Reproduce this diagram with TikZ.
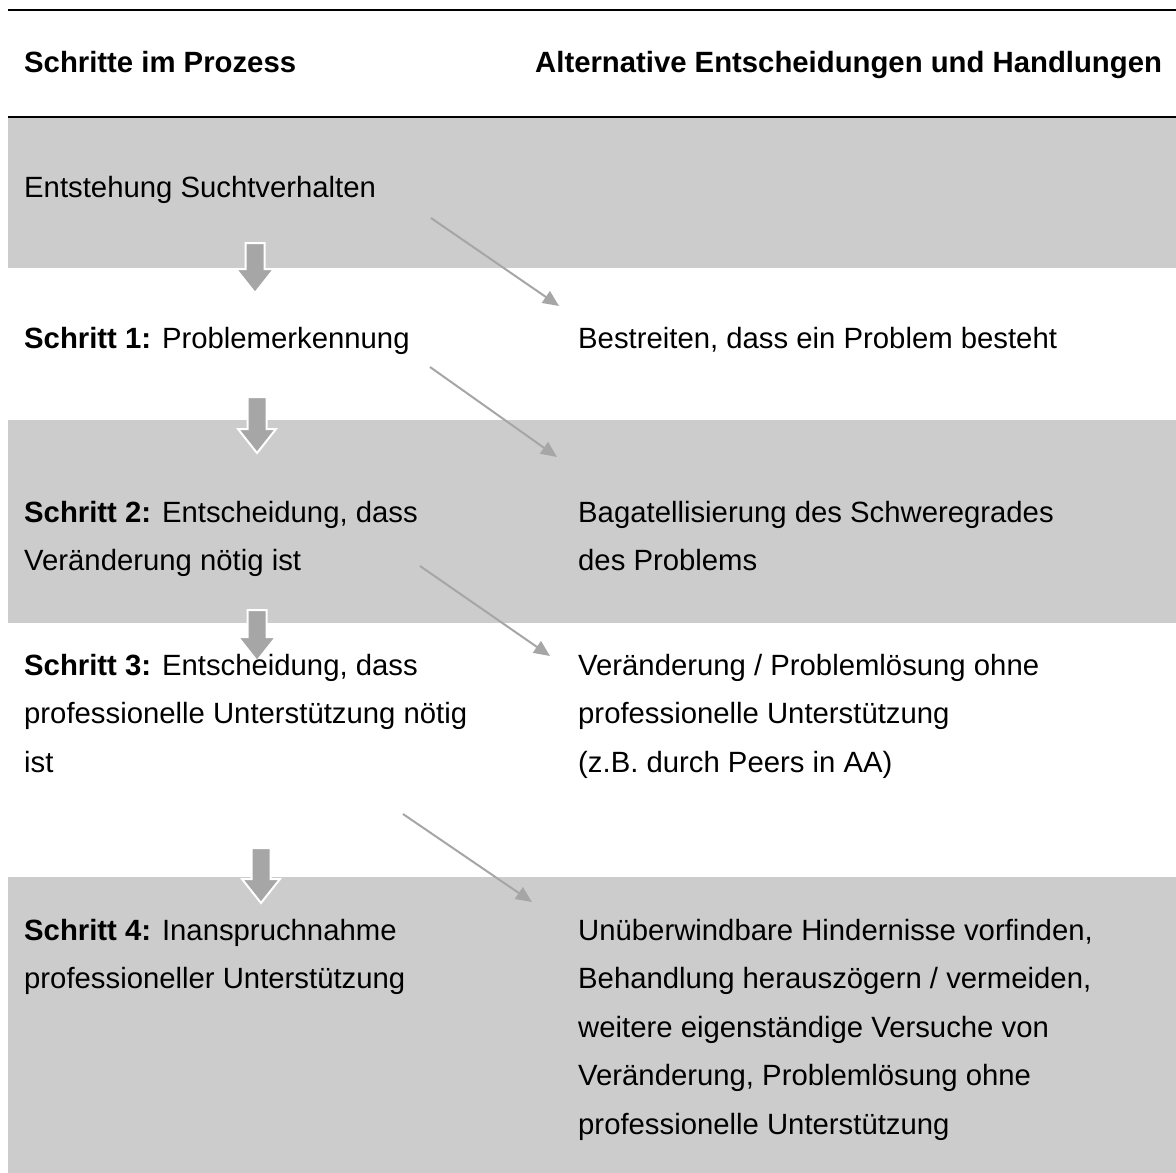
\documentclass[tikz,border=0pt]{standalone}
\usepackage{fontspec}
\setmainfont{Liberation Sans}
\usepackage{tikz}
\usetikzlibrary{arrows.meta}
\definecolor{bandgray}{HTML}{CCCCCC}
\definecolor{arrowgray}{HTML}{A6A6A6}
\newcommand{\bodyfont}{\fontsize{29.3}{48.5}\selectfont}

\begin{document}
\begin{tikzpicture}[x=1pt, y=-1pt,
  txt/.style={anchor=base west, inner sep=0pt, align=left, font=\bodyfont},
  band/.style={fill=bandgray, draw=none},
  rule/.style={line width=2.5pt, black},
  blockarrow/.style={fill=arrowgray, draw=white, line width=2pt},
  thinarrow/.style={arrowgray, line width=2pt, -{Triangle[length=16pt,width=14pt]}}]
\useasboundingbox (0,0) rectangle (1176,1173);

% grey rows
\fill[band] (8,117) rectangle (1176,268);
\fill[band] (8,420) rectangle (1176,623);
\fill[band] (8,877) rectangle (1176,1173);

% table rules
\draw[rule] (8,10) -- (1176,10);
\draw[rule] (8,117) -- (1176,117);

% block arrows between the steps
\foreach \ax/\at/\ab in {255/243/293, 257/397/453, 257/610/661, 261/848/903}
  \filldraw[blockarrow] (\ax-9.5,\at) -- (\ax+9.5,\at) -- (\ax+9.5,\ab-24) -- (\ax+19,\ab-24)
    -- (\ax,\ab) -- (\ax-19,\ab-24) -- (\ax-9.5,\ab-24) -- cycle;

% header
\node[txt] (steps) at (24,72) {\textbf{Schritte im Prozess}};
\node[txt] (alts) at (535,72) {\textbf{Alternative Entscheidungen und Handlungen}};

% left column (multi-line nodes sit on their last baseline)
\node[txt] (origin) at (24,197) {Entstehung Suchtverhalten};
\node[txt] (step1) at (24,348) {\textbf{Schritt 1:} Problemerkennung};
\node[txt] (step2) at (24,570.5) {\textbf{Schritt 2:} Entscheidung, dass\\Veränderung nötig ist};
\node[txt] (step3) at (24,772) {\textbf{Schritt 3:} Entscheidung, dass\\professionelle Unterstützung nötig\\ist};
\node[txt] (step4) at (24,988.5) {\textbf{Schritt 4:} Inanspruchnahme\\professioneller Unterstützung};

% right column
\node[txt] (alt1) at (578,348) {Bestreiten, dass ein Problem besteht};
\node[txt] (alt2) at (578,570.5) {Bagatellisierung des Schweregrades\\des Problems};
\node[txt] (alt3) at (578,772) {Veränderung / Problemlösung ohne\\professionelle Unterstützung\\(z.B. durch Peers in AA)};
\node[txt] (alt4) at (578,1134) {Unüberwindbare Hindernisse vorfinden,\\Behandlung herauszögern / vermeiden,\\weitere eigenständige Versuche von\\Veränderung, Problemlösung ohne\\professionelle Unterstützung};

% thin arrows to the alternatives
\coordinate (s1) at (431,218); \coordinate (e1) at (559,306);
\coordinate (s2) at (430,367); \coordinate (e2) at (557,457);
\coordinate (s3) at (420,566); \coordinate (e3) at (550,656);
\coordinate (s4) at (403,814); \coordinate (e4) at (532,902);
\draw[thinarrow] (s1) -- (e1);
\draw[thinarrow] (s2) -- (e2);
\draw[thinarrow] (s3) -- (e3);
\draw[thinarrow] (s4) -- (e4);
\end{tikzpicture}
\end{document}
